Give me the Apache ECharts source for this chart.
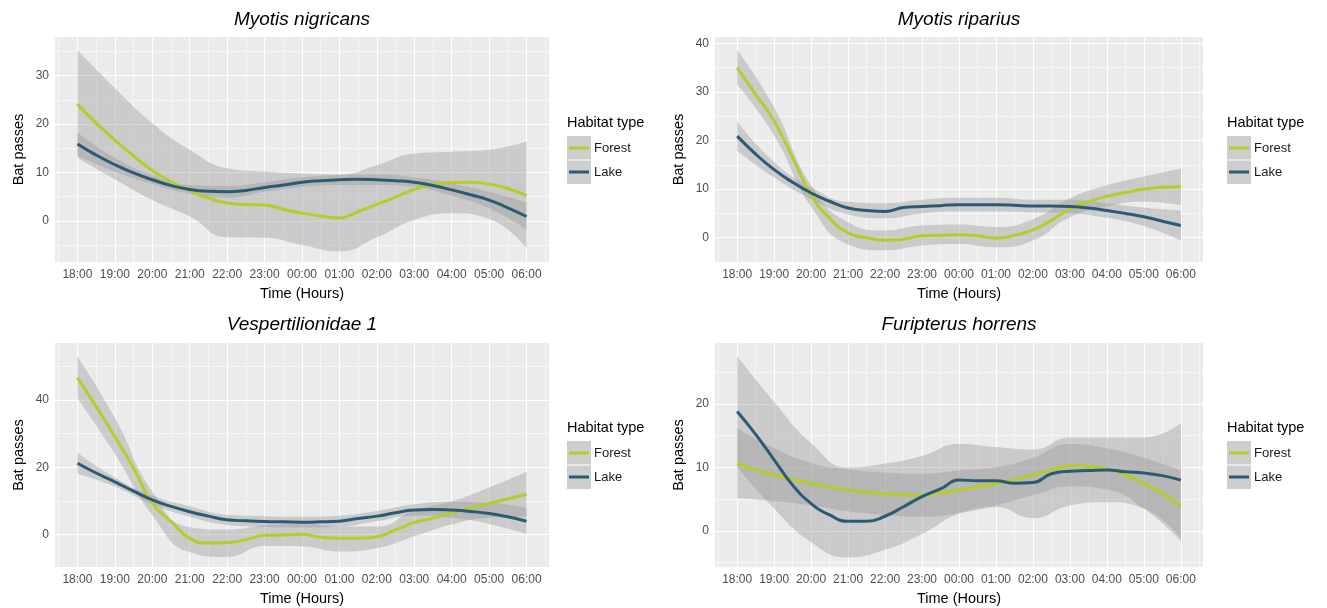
<!DOCTYPE html>
<html>
<head>
<meta charset="utf-8">
<title>Bat activity by hour and habitat</title>
<script src="https://cdn.jsdelivr.net/npm/echarts@6/dist/echarts.min.js"></script>
<style>
  html, body { margin: 0; padding: 0; background: #ffffff; }
  #main { width: 1327px; height: 608px; }
</style>
</head>
<body>
<div id="main"></div>
<script>
// ---- Data ---------------------------------------------------------------
// Hours after 18:00 (0 = 18:00, 12 = 06:00)
const hourLabels = ['18:00','19:00','20:00','21:00','22:00','23:00','00:00','01:00','02:00','03:00','04:00','05:00','06:00'];
const hourTimes = [0,1,2,3,4,5,6,7,8,9,10,11,12];
const halfHourTimes = [0,0.5,1,1.5,2,2.5,3,3.5,4,4.5,5,5.5,6,6.5,7,7.5,8,8.5,9,9.5,10,10.5,11,11.5,12];

// Myotis nigricans — fitted curves (half-hourly) and 95% bands (hourly)
const nigricansForest = [24.1,20.2,16.7,13.4,10.4,8.1,6.2,4.7,3.7,3.4,3.3,2.4,1.6,1.0,0.6,1.9,3.4,4.9,6.5,7.5,7.9,8.0,7.6,6.7,5.2];
const nigricansLake   = [15.9,13.6,11.6,9.9,8.5,7.3,6.5,6.1,6.0,6.3,6.9,7.4,8.0,8.3,8.5,8.6,8.5,8.3,8.0,7.3,6.4,5.4,4.3,2.7,0.9];
const nigricansForestUpper = [35.3,27.4,20.2,14.7,10.9,10.2,9.8,9.6,11.5,13.9,14.3,14.7,16.4];
const nigricansForestLower = [13.0,8.6,4.3,0.9,-3.4,-3.5,-5.0,-6.3,-3.4,0.2,1.6,0.4,-5.6];
const nigricansLakeUpper   = [18.3,13.0,9.5,7.4,7.2,8.0,9.0,9.5,9.6,9.0,7.7,6.0,3.8];
const nigricansLakeLower   = [13.4,10.2,7.6,5.6,4.8,6.0,7.0,7.4,7.4,7.0,5.2,2.6,-1.8];

// Myotis riparius
const ripariusForest = [35.0,29.5,24.0,16.5,8.8,4.0,1.0,0.0,-0.5,-0.3,0.4,0.5,0.6,0.4,-0.1,0.5,1.6,3.6,6.0,7.4,8.5,9.3,10.0,10.4,10.5];
const ripariusLake   = [20.9,17.2,14.0,11.4,9.2,7.5,6.1,5.6,5.4,6.2,6.4,6.6,6.8,6.8,6.8,6.7,6.5,6.5,6.4,6.1,5.6,5.0,4.3,3.4,2.5];
const ripariusForestUpper = [38.6,26.8,10.8,3.2,1.5,2.5,2.7,2.2,3.8,8.1,10.8,12.6,14.2];
const ripariusForestLower = [31.5,21.0,6.4,-1.4,-2.6,-1.6,-1.3,-2.0,-0.6,4.2,6.4,7.4,6.7];
const ripariusLakeUpper   = [23.9,15.6,10.4,7.4,7.1,7.8,8.2,8.2,7.8,7.8,7.1,6.2,5.6];
const ripariusLakeLower   = [17.9,12.4,8.0,4.8,4.0,5.0,5.4,5.4,5.2,5.0,4.1,2.4,-0.6];

// Vespertilionidae 1
const vespForest = [46.6,38.0,29.1,19.7,9.3,3.9,-1.1,-2.5,-2.4,-1.5,-0.2,-0.1,0.1,-0.8,-1.1,-1.1,-0.6,1.4,3.6,4.9,6.5,7.8,9.3,10.6,12.0];
const vespLake   = [21.2,18.3,15.7,12.9,10.3,8.4,6.8,5.5,4.4,4.1,3.9,3.8,3.7,3.8,4.0,4.8,5.5,6.5,7.3,7.5,7.3,6.9,6.3,5.3,4.0];
const vespForestUpper = [52.9,34.7,12.8,2.2,1.5,2.7,3.3,2.4,2.4,7.2,9.9,14.0,18.7];
const vespForestLower = [40.5,24.0,5.8,-5.2,-6.6,-3.4,-3.5,-5.0,-4.0,-0.5,3.0,5.0,5.3];
const vespLakeUpper   = [24.3,17.0,11.6,8.4,5.9,5.5,5.3,5.6,7.0,9.0,9.8,9.5,8.0];
const vespLakeLower   = [18.1,14.3,9.0,5.3,2.9,2.3,2.1,2.4,4.0,5.6,5.0,3.2,0.2];

// Furipterus horrens
const horrensForest = [10.6,9.6,8.8,8.1,7.5,6.9,6.4,6.1,5.9,5.7,5.6,6.0,6.4,6.9,7.4,8.1,8.8,9.6,10.3,10.1,9.8,8.8,7.5,5.9,3.9];
const horrensLake   = [18.8,15.2,11.2,7.2,4.3,2.5,1.5,1.5,2.3,3.8,5.4,6.6,8.0,7.9,7.9,7.5,7.6,9.0,9.4,9.5,9.6,9.3,9.1,8.7,8.0];
const horrensForestUpper = [16.2,13.0,10.7,9.7,9.2,9.0,9.5,10.0,11.5,13.7,13.0,11.5,9.5];
const horrensForestLower = [5.1,4.7,4.0,3.1,2.5,2.2,2.8,4.0,5.6,7.0,6.5,3.5,-1.6];
const horrensLakeUpper   = [27.5,20.3,13.8,10.0,10.6,11.8,13.7,13.2,12.8,14.7,14.7,14.7,17.0];
const horrensLakeLower   = [10.0,3.5,-1.8,-4.2,-3.0,-0.5,2.7,3.7,2.0,4.0,4.5,3.5,-1.2];

// Axis breaks for each panel
const nigricansTicks = [0,10,20,30];   const nigricansMinor = [-5,5,15,25,35];
const ripariusTicks  = [0,10,20,30,40]; const ripariusMinor  = [5,15,25,35];
const vespTicks      = [0,20,40];       const vespMinor      = [10,30,50];
const horrensTicks   = [0,10,20];       const horrensMinor   = [-5,5,15,25];
const xMinor = [-0.5,0.5,1.5,2.5,3.5,4.5,5.5,6.5,7.5,8.5,9.5,10.5,11.5,12.5];

// ---- Panels & layout ----------------------------------------------------
const panels = [
  { title: 'Myotis nigricans', forest: nigricansForest, lake: nigricansLake,
    fHi: nigricansForestUpper, fLo: nigricansForestLower, lHi: nigricansLakeUpper, lLo: nigricansLakeLower,
    ticks: nigricansTicks, minor: nigricansMinor, yMin: -8.5, yMax: 38.0 },
  { title: 'Myotis riparius', forest: ripariusForest, lake: ripariusLake,
    fHi: ripariusForestUpper, fLo: ripariusForestLower, lHi: ripariusLakeUpper, lLo: ripariusLakeLower,
    ticks: ripariusTicks, minor: ripariusMinor, yMin: -5.0, yMax: 41.3 },
  { title: 'Vespertilionidae 1', forest: vespForest, lake: vespLake,
    fHi: vespForestUpper, fLo: vespForestLower, lHi: vespLakeUpper, lLo: vespLakeLower,
    ticks: vespTicks, minor: vespMinor, yMin: -9.6, yMax: 56.9 },
  { title: 'Furipterus horrens', forest: horrensForest, lake: horrensLake,
    fHi: horrensForestUpper, fLo: horrensForestLower, lHi: horrensLakeUpper, lLo: horrensLakeLower,
    ticks: horrensTicks, minor: horrensMinor, yMin: -5.7, yMax: 29.6 }
];

const layout = [
  { left: 55,  top: 37,  width: 494, height: 225, titleX: 302, titleTop: 10,  keyLeft: 567,  keyTop: 136 },
  { left: 715, top: 37,  width: 488, height: 225, titleX: 959, titleTop: 10,  keyLeft: 1227, keyTop: 136 },
  { left: 55,  top: 343, width: 494, height: 224, titleX: 302, titleTop: 315, keyLeft: 567,  keyTop: 441 },
  { left: 715, top: 343, width: 488, height: 224, titleX: 959, titleTop: 315, keyLeft: 1227, keyTop: 441 }
];

const FONT = '"Liberation Sans", Arial, Helvetica, sans-serif';
const FOREST_COLOR = '#B3CE2A';
const LAKE_COLOR = '#2B5B72';
const BAND_FILL = 'rgba(153,153,153,0.4)';
// key glyph: a short horizontal stroke, centred in a 20x24 key cell
const KEY_LINE = 'path://M0,0M0,24M0,10.5H20V13.5H0Z';

const grids = [], xAxes = [], yAxes = [], series = [], titles = [], legends = [], graphics = [];

function pairs(times, values) {
  return times.map((t, k) => [t, values[k]]);
}

panels.forEach((p, i) => {
  const L = layout[i];
  grids.push({ left: L.left, top: L.top, width: L.width, height: L.height,
    show: true, backgroundColor: '#EBEBEB', borderWidth: 0 });

  xAxes.push({
    type: 'value', gridIndex: i, min: -0.6, max: 12.6,
    axisLine: { show: false },
    axisTick: { show: true, customValues: hourTimes, length: 3, lineStyle: { color: '#333333', width: 1 } },
    axisLabel: { customValues: hourTimes, formatter: v => hourLabels[Math.round(v)],
      margin: 7, fontSize: 12, color: '#4D4D4D', fontFamily: FONT },
    splitLine: { show: false },
    name: 'Time (Hours)', nameLocation: 'middle', nameGap: 24,
    nameTextStyle: { fontSize: 14.5, color: '#000000', fontFamily: FONT }
  });

  yAxes.push({
    type: 'value', gridIndex: i, min: p.yMin, max: p.yMax,
    axisLine: { show: false },
    axisTick: { show: true, customValues: p.ticks, length: 3, lineStyle: { color: '#333333', width: 1 } },
    axisLabel: { customValues: p.ticks, margin: 6, fontSize: 12, color: '#4D4D4D', fontFamily: FONT },
    splitLine: { show: false },
    name: 'Bat passes', nameLocation: 'middle', nameGap: 29,
    nameTextStyle: { fontSize: 14.5, color: '#000000', fontFamily: FONT }
  });

  // panel grid lines (major + minor), drawn through the axes' scales
  const gridLines = [];
  hourTimes.forEach(v => gridLines.push({ xAxis: v, lineStyle: { color: '#FFFFFF', width: 1.1, type: 'solid' } }));
  xMinor.forEach(v => gridLines.push({ xAxis: v, lineStyle: { color: '#FFFFFF', width: 0.55, type: 'solid' } }));
  p.ticks.forEach(v => gridLines.push({ yAxis: v, lineStyle: { color: '#FFFFFF', width: 1.1, type: 'solid' } }));
  p.minor.forEach(v => gridLines.push({ yAxis: v, lineStyle: { color: '#FFFFFF', width: 0.55, type: 'solid' } }));
  series.push({
    type: 'line', name: 'grid' + i, xAxisIndex: i, yAxisIndex: i, data: [], silent: true, z: 1,
    markLine: { silent: true, z: 1, symbol: ['none', 'none'], label: { show: false },
      emphasis: { disabled: true }, animation: false, data: gridLines }
  });

  // confidence bands: lower bound + stacked band width.
  // Rows are [value, time] so the value column is the one that gets stacked.
  [['f', p.fLo, p.fHi], ['l', p.lLo, p.lHi]].forEach(([key, lo, hi]) => {
    const stackId = 'band-' + key + i;
    series.push({
      type: 'line', name: 'lower-' + key + i, xAxisIndex: i, yAxisIndex: i,
      data: hourTimes.map((t, k) => [lo[k], t]), encode: { x: 1, y: 0 },
      stack: stackId, stackStrategy: 'all',
      symbol: 'none', smooth: true, lineStyle: { opacity: 0 }, silent: true, z: 2
    });
    series.push({
      type: 'line', name: 'band-' + key + i, xAxisIndex: i, yAxisIndex: i,
      data: hourTimes.map((t, k) => [hi[k] - lo[k], t]), encode: { x: 1, y: 0 },
      stack: stackId, stackStrategy: 'all',
      symbol: 'none', smooth: true, lineStyle: { opacity: 0 },
      areaStyle: { color: BAND_FILL, opacity: 1 }, silent: true, z: 2
    });
  });

  series.push({
    type: 'line', name: 'Forest', xAxisIndex: i, yAxisIndex: i,
    data: pairs(halfHourTimes, p.forest), symbol: 'none', smooth: true,
    lineStyle: { color: FOREST_COLOR, width: 3 }, itemStyle: { color: FOREST_COLOR }, z: 3
  });
  series.push({
    type: 'line', name: 'Lake', xAxisIndex: i, yAxisIndex: i,
    data: pairs(halfHourTimes, p.lake), symbol: 'none', smooth: true,
    lineStyle: { color: LAKE_COLOR, width: 3 }, itemStyle: { color: LAKE_COLOR }, z: 3
  });

  titles.push({
    text: p.title, left: L.titleX, top: L.titleTop, textAlign: 'center', padding: 0,
    textStyle: { fontSize: 19, fontStyle: 'italic', fontWeight: 'normal', color: '#000000', fontFamily: FONT }
  });
  titles.push({
    text: 'Habitat type', left: L.keyLeft, top: L.keyTop - 21, padding: 0,
    textStyle: { fontSize: 14.5, fontWeight: 'normal', color: '#000000', fontFamily: FONT }
  });

  legends.push({
    data: ['Forest', 'Lake'], orient: 'vertical', left: L.keyLeft + 2, top: L.keyTop,
    icon: KEY_LINE, itemWidth: 20, itemHeight: 24, itemGap: 0, padding: 0, selectedMode: false,
    textStyle: { fontSize: 13, color: '#1A1A1A', fontFamily: FONT }
  });

  graphics.push({ type: 'rect', left: L.keyLeft, top: L.keyTop, z: 0, silent: true,
    shape: { width: 24, height: 23.5 }, style: { fill: '#CECECE' } });
  graphics.push({ type: 'rect', left: L.keyLeft, top: L.keyTop + 24.5, z: 0, silent: true,
    shape: { width: 24, height: 23.5 }, style: { fill: '#CECECE' } });
});

const chart = echarts.init(document.getElementById('main'), null, { renderer: 'canvas' });
chart.setOption({
  animation: false,
  backgroundColor: '#FFFFFF',
  title: titles,
  legend: legends,
  grid: grids,
  xAxis: xAxes,
  yAxis: yAxes,
  graphic: graphics,
  series: series
});
</script>
</body>
</html>
